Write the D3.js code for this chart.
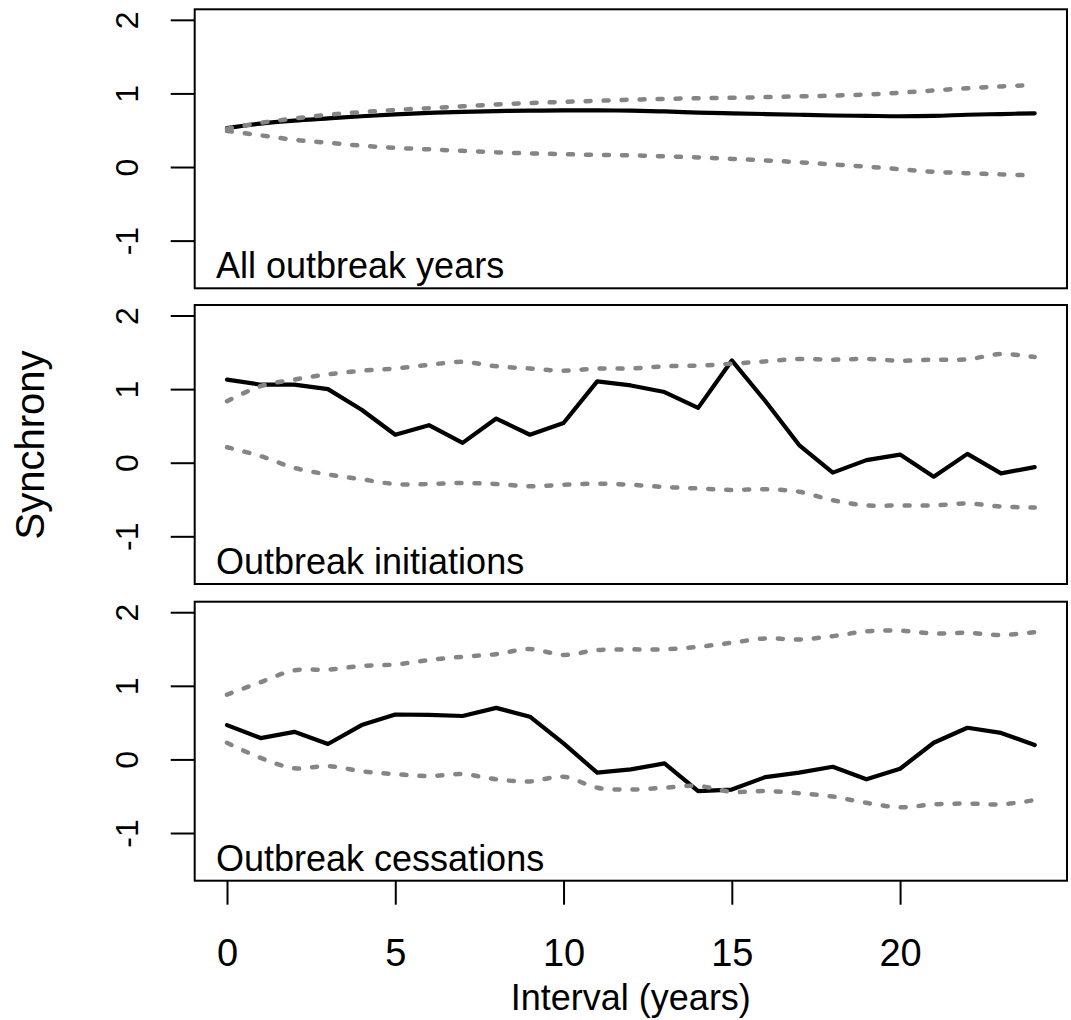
<!DOCTYPE html>
<html>
<head>
<meta charset="utf-8">
<script src="https://cdn.jsdelivr.net/npm/d3@7"></script>
<style>
  body { margin: 0; background: #fff; }
  text { font-family: "Liberation Sans", Arial, sans-serif; fill: #000; }
</style>
</head>
<body>
<svg></svg>
<script>
var width = 1071,
    height = 1020

// interval in years
var intervals = d3.range(0, 25)

var panelNames = ["All outbreak years", "Outbreak initiations", "Outbreak cessations"]

var allMean  = [0.53,0.59,0.63,0.66,0.69,0.715,0.735,0.75,0.76,0.765,0.77,0.77,0.765,0.755,0.74,0.73,0.72,0.71,0.70,0.695,0.69,0.695,0.71,0.72,0.73]
var allUpper = [0.52,0.60,0.66,0.71,0.745,0.775,0.80,0.825,0.85,0.87,0.885,0.90,0.915,0.925,0.935,0.94,0.95,0.96,0.97,0.985,1.01,1.04,1.07,1.095,1.115]
var allLower = [0.49,0.43,0.37,0.33,0.29,0.26,0.24,0.22,0.20,0.185,0.175,0.165,0.158,0.145,0.13,0.11,0.09,0.065,0.035,0.005,-0.03,-0.065,-0.085,-0.10,-0.115]

var initMean  = [1.13,1.06,1.06,1.0,0.72,0.38,0.51,0.27,0.60,0.38,0.54,1.105,1.05,0.96,0.745,1.39,0.835,0.24,-0.135,0.035,0.11,-0.19,0.12,-0.145,-0.06]
var initUpper = [0.835,1.04,1.13,1.20,1.25,1.28,1.33,1.37,1.31,1.28,1.25,1.28,1.28,1.31,1.32,1.345,1.377,1.41,1.40,1.41,1.386,1.40,1.405,1.477,1.436]
var initLower = [0.21,0.09,-0.07,-0.16,-0.225,-0.29,-0.29,-0.275,-0.29,-0.32,-0.30,-0.285,-0.30,-0.33,-0.35,-0.37,-0.36,-0.395,-0.51,-0.58,-0.58,-0.58,-0.555,-0.595,-0.61]

var cessMean  = [0.466,0.29,0.375,0.21,0.466,0.61,0.605,0.59,0.70,0.58,0.217,-0.18,-0.136,-0.054,-0.43,-0.41,-0.24,-0.18,-0.10,-0.27,-0.127,0.226,0.43,0.36,0.195]
var cessUpper = [0.88,1.05,1.21,1.22,1.27,1.29,1.35,1.395,1.43,1.50,1.42,1.485,1.495,1.495,1.53,1.585,1.644,1.63,1.675,1.74,1.75,1.71,1.72,1.69,1.73]
var cessLower = [0.226,0.02,-0.12,-0.09,-0.16,-0.20,-0.226,-0.20,-0.27,-0.30,-0.235,-0.385,-0.41,-0.385,-0.36,-0.44,-0.43,-0.46,-0.505,-0.59,-0.65,-0.61,-0.60,-0.61,-0.553]

var xTicks = [0, 5, 10, 15, 20]
var yTicks = [-1, 0, 1, 2]

var panels = [
  {name: panelNames[0], mean: allMean,  upper: allUpper,  lower: allLower,  smooth: true},
  {name: panelNames[1], mean: initMean, upper: initUpper, lower: initLower, smooth: false},
  {name: panelNames[2], mean: cessMean, upper: cessUpper, lower: cessLower, smooth: false}
]

var left = 194.7, right = 1067,
    panelTop = [9.3, 305, 601.7],
    panelH = 279

var svg = d3.select("svg").attr("width", width).attr("height", height);

var x = d3.scaleLinear().domain([-0.96, 24.96]).range([left, right])

panels.forEach(function(p, i) {
  var top = panelTop[i]
  var y = d3.scaleLinear().domain([-1.648, 2.143]).range([top + panelH, top])

  var g = svg.append("g")

  var pts = function(vals) {
    return intervals.map(function(d, k) { return [d, vals[k]] })
  }

  var smoothLine = d3.line()
    .x(function(d) { return x(d[0]) })
    .y(function(d) { return y(d[1]) })
    .curve(d3.curveCatmullRom)

  var straightLine = d3.line()
    .x(function(d) { return x(d[0]) })
    .y(function(d) { return y(d[1]) })

  g.append("path")
    .attr("d", (p.smooth ? smoothLine : straightLine)(pts(p.mean)))
    .attr("fill", "none")
    .attr("stroke", "#000")
    .attr("stroke-width", 4.2)
    .attr("stroke-linejoin", "round")
    .attr("stroke-linecap", "round")

  ;[p.upper, p.lower].forEach(function(vals) {
    g.append("path")
      .attr("d", smoothLine(pts(vals)))
      .attr("fill", "none")
      .attr("stroke", "#858585")
      .attr("stroke-width", 4.5)
      .attr("stroke-dasharray", "5,13")
      .attr("stroke-linecap", "round")
  })

  // y axis
  var yAxis = g.append("g")
    .attr("transform", "translate(" + left + ",0)")
    .call(d3.axisLeft(y).tickValues(yTicks).tickSize(24).tickFormat(function(d) { return String(d) }))
  yAxis.select(".domain").remove()
  yAxis.selectAll("line").attr("stroke", "#000").attr("stroke-width", 2)
  yAxis.selectAll("text")
    .attr("x", null).attr("dy", null)
    .attr("transform", function(d) { return "translate(" + (138 - left) + ",0) rotate(-90)" })
    .attr("text-anchor", "middle")
    .style("font-size", "32px")
    .style("font-family", "Liberation Sans, Arial, sans-serif")

  g.append("rect")
    .attr("x", left).attr("y", top)
    .attr("width", right - left).attr("height", panelH)
    .attr("fill", "none")
    .attr("stroke", "#000")
    .attr("stroke-width", 2)

  g.append("text")
    .attr("x", 216)
    .attr("y", top + panelH - 10)
    .style("font-size", "36px")
    .text(p.name)

  if (i == 2) {
    var xAxis = g.append("g")
      .attr("transform", "translate(0," + (top + panelH) + ")")
      .call(d3.axisBottom(x).tickValues(xTicks).tickSize(24).tickPadding(0))
    xAxis.select(".domain").remove()
    xAxis.selectAll("line").attr("stroke", "#000").attr("stroke-width", 2)
    xAxis.selectAll("text")
      .attr("y", 966 - (top + panelH)).attr("dy", null)
      .style("font-size", "38px")
      .style("font-family", "Liberation Sans, Arial, sans-serif")
  }
})

svg.append("text")
  .attr("x", (left + right) / 2)
  .attr("y", 1010)
  .attr("text-anchor", "middle")
  .style("font-size", "36px")
  .text("Interval (years)")

svg.append("text")
  .attr("transform", "translate(44,445) rotate(-90)")
  .attr("text-anchor", "middle")
  .style("font-size", "40px")
  .text("Synchrony")
</script>
</body>
</html>
